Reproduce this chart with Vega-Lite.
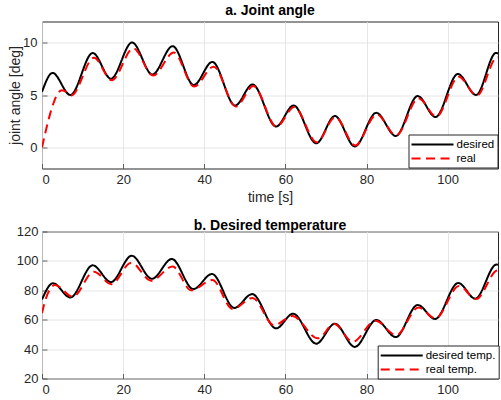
{
  "$schema": "https://vega.github.io/schema/vega-lite/v6.json",
  "padding": {"left": 8, "top": 3.5, "right": 0, "bottom": 0},
  "config": {
    "font": "Liberation Sans",
    "view": {"stroke": "#262626", "strokeWidth": 1},
    "axis": {
      "labelFontSize": 13, "labelColor": "#262626", "gridColor": "#e0e0e0", "gridWidth": 0.8,
      "domain": false, "ticks": true, "tickSize": -5, "tickColor": "#404040", "tickWidth": 0.8, "labelPadding": 10,
      "titleFontSize": 14, "titleFontWeight": "normal", "titleColor": "#262626", "titlePadding": 2
    },
    "title": {"fontSize": 14, "fontWeight": "bold", "color": "#000000", "offset": 3.5, "frame": "group"},
    "legend": {
      "symbolType": "M-3.5,0H3.5", "symbolSize": 144, "symbolStrokeWidth": 2,
      "symbolOffset": 14, "labelOffset": 17, "labelFontSize": 11.5, "labelColor": "#000000",
      "labelExpr": "datum.label + '\u00a0\u00a0\u00a0'",
      "padding": 3, "rowPadding": 1, "fillColor": "#ffffff", "strokeColor": "#262626"
    },
    "concat": {"spacing": 12}
  },
  "datasets": {
    "angle": [
      {"t": 0, "v": 5.3, "s": "desired"}, {"t": 2.6, "v": 7.1, "s": "desired"}, {"t": 7.0, "v": 5.0, "s": "desired"},
      {"t": 12.5, "v": 9.0, "s": "desired"}, {"t": 17.0, "v": 6.55, "s": "desired"}, {"t": 22.2, "v": 10.0, "s": "desired"},
      {"t": 27.2, "v": 6.95, "s": "desired"}, {"t": 32.2, "v": 9.65, "s": "desired"}, {"t": 37.4, "v": 5.95, "s": "desired"},
      {"t": 42.0, "v": 8.15, "s": "desired"}, {"t": 47.6, "v": 4.0, "s": "desired"}, {"t": 51.9, "v": 6.0, "s": "desired"},
      {"t": 57.7, "v": 2.0, "s": "desired"}, {"t": 62.0, "v": 4.0, "s": "desired"}, {"t": 67.6, "v": 0.4, "s": "desired"},
      {"t": 72.2, "v": 3.0, "s": "desired"}, {"t": 77.1, "v": 0.1, "s": "desired"}, {"t": 82.4, "v": 3.3, "s": "desired"},
      {"t": 87.2, "v": 1.1, "s": "desired"}, {"t": 92.6, "v": 4.9, "s": "desired"}, {"t": 97.0, "v": 2.9, "s": "desired"},
      {"t": 102.5, "v": 7.0, "s": "desired"}, {"t": 107.0, "v": 5.0, "s": "desired"}, {"t": 111.9, "v": 9.0, "s": "desired"},
      {"t": 113, "v": 8.9, "s": "desired"},
      {"t": 0, "v": 0.0, "s": "real"}, {"t": 1, "v": 1.7, "s": "real"}, {"t": 2, "v": 3.2, "s": "real"},
      {"t": 3, "v": 4.4, "s": "real"}, {"t": 4, "v": 5.2, "s": "real"}, {"t": 4.9, "v": 5.45, "s": "real"},
      {"t": 5.7, "v": 5.35, "s": "real"}, {"t": 7.2, "v": 4.95, "s": "real"}, {"t": 12.8, "v": 8.55, "s": "real"},
      {"t": 17.2, "v": 6.4, "s": "real"}, {"t": 22.5, "v": 9.45, "s": "real"}, {"t": 27.4, "v": 6.85, "s": "real"},
      {"t": 32.5, "v": 9.05, "s": "real"}, {"t": 37.5, "v": 5.8, "s": "real"}, {"t": 42.3, "v": 7.7, "s": "real"},
      {"t": 47.8, "v": 3.9, "s": "real"}, {"t": 52.1, "v": 5.85, "s": "real"}, {"t": 57.8, "v": 2.0, "s": "real"},
      {"t": 62.2, "v": 3.85, "s": "real"}, {"t": 67.7, "v": 0.5, "s": "real"}, {"t": 72.3, "v": 2.9, "s": "real"},
      {"t": 77.2, "v": 0.2, "s": "real"}, {"t": 82.5, "v": 3.15, "s": "real"}, {"t": 87.3, "v": 1.15, "s": "real"},
      {"t": 92.8, "v": 4.7, "s": "real"}, {"t": 97.2, "v": 2.95, "s": "real"}, {"t": 102.7, "v": 6.75, "s": "real"},
      {"t": 107.2, "v": 4.95, "s": "real"}, {"t": 112.2, "v": 8.6, "s": "real"}, {"t": 113, "v": 8.5, "s": "real"}
    ],
    "temp": [
      {"t": 0, "v": 73.8, "s": "desired temp."}, {"t": 2.7, "v": 84.8, "s": "desired temp."}, {"t": 7.0, "v": 75.1, "s": "desired temp."},
      {"t": 12.5, "v": 97.0, "s": "desired temp."}, {"t": 17.0, "v": 85.6, "s": "desired temp."}, {"t": 22.1, "v": 103.5, "s": "desired temp."},
      {"t": 27.1, "v": 87.8, "s": "desired temp."}, {"t": 32.0, "v": 101.3, "s": "desired temp."}, {"t": 37.3, "v": 80.8, "s": "desired temp."},
      {"t": 41.9, "v": 91.1, "s": "desired temp."}, {"t": 47.4, "v": 68.0, "s": "desired temp."}, {"t": 51.8, "v": 77.4, "s": "desired temp."},
      {"t": 57.7, "v": 54.1, "s": "desired temp."}, {"t": 61.9, "v": 64.1, "s": "desired temp."}, {"t": 67.6, "v": 43.7, "s": "desired temp."},
      {"t": 72.2, "v": 57.3, "s": "desired temp."}, {"t": 77.1, "v": 41.5, "s": "desired temp."}, {"t": 82.4, "v": 59.8, "s": "desired temp."},
      {"t": 87.2, "v": 48.2, "s": "desired temp."}, {"t": 92.6, "v": 70.0, "s": "desired temp."}, {"t": 96.9, "v": 60.5, "s": "desired temp."},
      {"t": 102.6, "v": 85.0, "s": "desired temp."}, {"t": 106.8, "v": 74.3, "s": "desired temp."}, {"t": 112.0, "v": 97.5, "s": "desired temp."},
      {"t": 113, "v": 97.2, "s": "desired temp."},
      {"t": 0, "v": 64.5, "s": "real temp."}, {"t": 0.8, "v": 73.0, "s": "real temp."}, {"t": 3.2, "v": 83.6, "s": "real temp."},
      {"t": 7.6, "v": 75.6, "s": "real temp."}, {"t": 12.8, "v": 92.7, "s": "real temp."}, {"t": 17.1, "v": 84.2, "s": "real temp."},
      {"t": 22.0, "v": 98.8, "s": "real temp."}, {"t": 26.9, "v": 86.5, "s": "real temp."}, {"t": 32.2, "v": 96.2, "s": "real temp."},
      {"t": 36.8, "v": 80.0, "s": "real temp."}, {"t": 42.0, "v": 87.0, "s": "real temp."}, {"t": 47.0, "v": 67.3, "s": "real temp."},
      {"t": 51.9, "v": 74.8, "s": "real temp."}, {"t": 57.2, "v": 56.2, "s": "real temp."}, {"t": 61.7, "v": 62.5, "s": "real temp."},
      {"t": 68.0, "v": 47.3, "s": "real temp."}, {"t": 72.0, "v": 57.0, "s": "real temp."}, {"t": 76.6, "v": 45.0, "s": "real temp."},
      {"t": 82.2, "v": 59.3, "s": "real temp."}, {"t": 87.3, "v": 49.5, "s": "real temp."}, {"t": 92.8, "v": 68.3, "s": "real temp."},
      {"t": 97.0, "v": 60.9, "s": "real temp."}, {"t": 102.8, "v": 83.0, "s": "real temp."}, {"t": 107.0, "v": 74.0, "s": "real temp."},
      {"t": 112.3, "v": 93.5, "s": "real temp."}, {"t": 113, "v": 93.3, "s": "real temp."}
    ]
  },
  "vconcat": [
    {
      "title": "a. Joint angle",
      "width": 456, "height": 147,
      "data": {"name": "angle"},
      "mark": {"type": "line", "interpolate": "monotone", "strokeWidth": 2, "clip": true},
      "encoding": {
        "x": {"field": "t", "type": "quantitative", "scale": {"domain": [0, 112.4], "nice": false},
              "axis": {"values": [0, 20, 40, 60, 80, 100], "title": "time [s]", "titlePadding": 4}},
        "y": {"field": "v", "type": "quantitative", "scale": {"domain": [-2, 12], "nice": false},
              "axis": {"values": [0, 5, 10], "title": "joint angle [deg]", "labelPadding": 10, "titlePadding": 0}},
        "color": {"field": "s", "type": "nominal", "scale": {"domain": ["desired", "real"], "range": ["#000000", "#ff0000"]},
                  "legend": {"title": null, "orient": "none", "legendX": 366.5, "legendY": 113}},
        "strokeDash": {"field": "s", "type": "nominal", "scale": {"domain": ["desired", "real"], "range": [[1, 0], [9, 5.5]]},
                       "legend": {"title": null, "orient": "none", "legendX": 366.5, "legendY": 113}}
      }
    },
    {
      "title": {"text": "b. Desired temperature", "offset": -7},
      "width": 456, "height": 147,
      "data": {"name": "temp"},
      "mark": {"type": "line", "interpolate": "monotone", "strokeWidth": 2, "clip": true},
      "encoding": {
        "x": {"field": "t", "type": "quantitative", "scale": {"domain": [0, 112.4], "nice": false},
              "axis": {"values": [0, 20, 40, 60, 80, 100], "title": null}},
        "y": {"field": "v", "type": "quantitative", "scale": {"domain": [20, 120], "nice": false},
              "axis": {"values": [20, 40, 60, 80, 100, 120], "title": null, "labelPadding": 9}},
        "color": {"field": "s", "type": "nominal", "scale": {"domain": ["desired temp.", "real temp."], "range": ["#000000", "#ff0000"]},
                  "legend": {"title": null, "orient": "none", "legendX": 335.7, "legendY": 114}},
        "strokeDash": {"field": "s", "type": "nominal", "scale": {"domain": ["desired temp.", "real temp."], "range": [[1, 0], [9, 5.5]]},
                       "legend": {"title": null, "orient": "none", "legendX": 335.7, "legendY": 114}}
      }
    }
  ],
  "resolve": {"scale": {"color": "independent", "strokeDash": "independent", "x": "independent", "y": "independent"}}
}
